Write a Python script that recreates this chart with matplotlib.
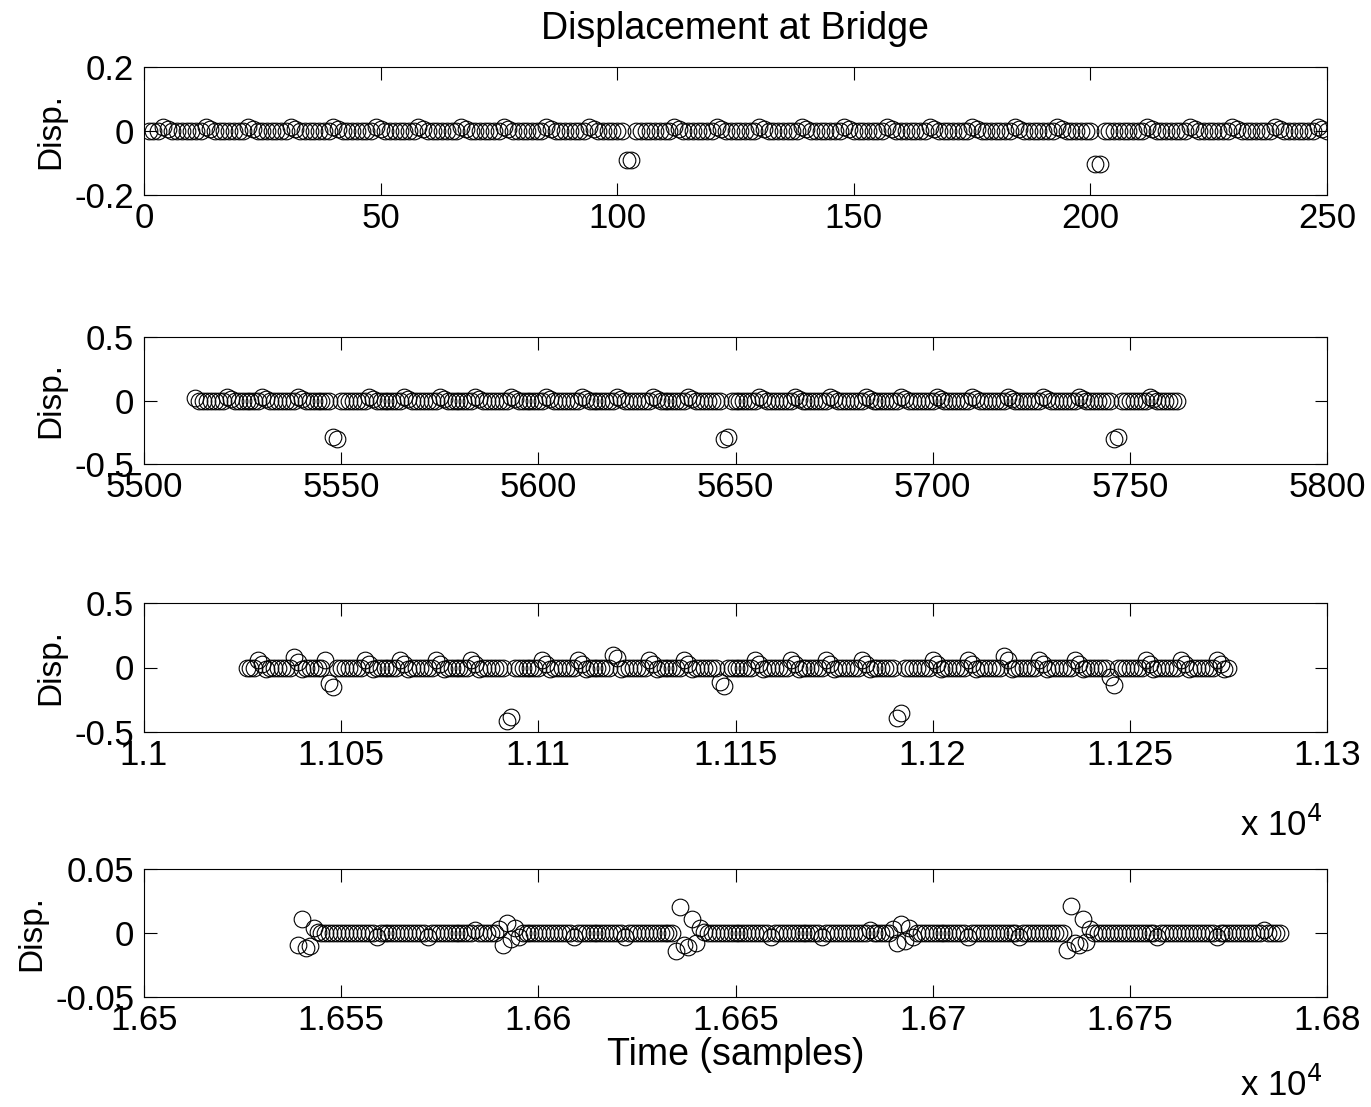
import numpy as np
import matplotlib
matplotlib.use("Agg")
import matplotlib.pyplot as plt
from matplotlib.ticker import FuncFormatter

plt.rcParams['font.family'] = ['Liberation Sans', 'DejaVu Sans']
plt.rcParams['axes.unicode_minus'] = False

# sample index where each segment starts (250 samples per segment)
start1 = 1
start2 = 5513
start3 = 11026
start4 = 16539

disp1 = [
    0, 0, 0, .012, .006, 0, 0, 0, 0, 0, 0, 0, .012, .006, 0, 0, 0, 0, 0, 0, 0, .012, .006, 0, 0,
    0, 0, 0, 0, 0, .012, .006, 0, 0, 0, 0, 0, 0, 0, .012, .006, 0, 0, 0, 0, 0, 0, 0, .012, .006,
    0, 0, 0, 0, 0, 0, 0, .012, .006, 0, 0, 0, 0, 0, 0, 0, .012, .006, 0, 0, 0, 0, 0, 0, 0,
    .012, .006, 0, 0, 0, 0, 0, 0, 0, .012, .006, 0, 0, 0, 0, 0, 0, 0, .012, .006, 0, 0, 0, 0, 0,
    0, -.09, -.092, 0, 0, 0, 0, 0, 0, 0, 0, .012, .006, 0, 0, 0, 0, 0, 0, 0, .012, .006, 0, 0, 0,
    0, 0, 0, 0, .012, .006, 0, 0, 0, 0, 0, 0, 0, .012, .006, 0, 0, 0, 0, 0, 0, 0, .012, .006, 0,
    0, 0, 0, 0, 0, 0, .012, .006, 0, 0, 0, 0, 0, 0, 0, .012, .006, 0, 0, 0, 0, 0, 0, 0, .012,
    .006, 0, 0, 0, 0, 0, 0, 0, .012, .006, 0, 0, 0, 0, 0, 0, 0, .012, .006, 0, 0, 0, 0, 0, 0,
    -.104, -.103, 0, 0, 0, 0, 0, 0, 0, 0, 0, .012, .006, 0, 0, 0, 0, 0, 0, 0, .012, .006, 0, 0, 0,
    0, 0, 0, 0, .012, .006, 0, 0, 0, 0, 0, 0, 0, .012, .006, 0, 0, 0, 0, 0, 0, 0, .012, .006, 0,
]

disp2 = [
    .02, 0, 0, 0, 0, 0, 0, 0, .03, .012, 0, 0, 0, 0, 0, 0, 0, .03, .012, 0, 0, 0, 0, 0, 0,
    0, .03, .012, 0, 0, 0, 0, 0, 0, 0, -.29, -.3, 0, 0, 0, 0, 0, 0, 0, .03, .012, 0, 0, 0, 0,
    0, 0, 0, .03, .012, 0, 0, 0, 0, 0, 0, 0, .03, .012, 0, 0, 0, 0, 0, 0, 0, .03, .012, 0, 0,
    0, 0, 0, 0, 0, .03, .012, 0, 0, 0, 0, 0, 0, 0, .03, .012, 0, 0, 0, 0, 0, 0, 0, .03, .012,
    0, 0, 0, 0, 0, 0, 0, .03, .012, 0, 0, 0, 0, 0, 0, 0, .03, .012, 0, 0, 0, 0, 0, 0, 0,
    .03, .012, 0, 0, 0, 0, 0, 0, 0, -.3, -.29, 0, 0, 0, 0, 0, 0, 0, .03, .012, 0, 0, 0, 0, 0,
    0, 0, .03, .012, 0, 0, 0, 0, 0, 0, 0, .03, .012, 0, 0, 0, 0, 0, 0, 0, .03, .012, 0, 0, 0,
    0, 0, 0, 0, .03, .012, 0, 0, 0, 0, 0, 0, 0, .03, .012, 0, 0, 0, 0, 0, 0, 0, .03, .012, 0,
    0, 0, 0, 0, 0, 0, .03, .012, 0, 0, 0, 0, 0, 0, 0, .03, .012, 0, 0, 0, 0, 0, 0, 0, .03,
    .012, 0, 0, 0, 0, 0, 0, 0, -.3, -.29, 0, 0, 0, 0, 0, 0, 0, .03, .012, 0, 0, 0, 0, 0, 0,
]

disp3 = [
    0, 0, 0, .06, .03, -.015, 0, 0, 0, 0, 0, 0, .08, .04, -.015, 0, 0, 0, 0, 0, .055, -.12, -.15, 0, 0,
    0, 0, 0, 0, 0, .06, .03, -.015, 0, 0, 0, 0, 0, 0, .06, .03, -.015, 0, 0, 0, 0, 0, 0, .06, .03,
    -.015, 0, 0, 0, 0, 0, 0, .06, .03, -.015, 0, 0, 0, 0, 0, 0, -.415, -.385, 0, 0, 0, 0, 0, 0, 0,
    .06, .03, -.015, 0, 0, 0, 0, 0, 0, .06, .03, -.015, 0, 0, 0, 0, 0, 0, .1, .07, -.015, 0, 0, 0, 0,
    0, 0, .06, .03, -.015, 0, 0, 0, 0, 0, 0, .06, .03, -.015, 0, 0, 0, 0, 0, 0, -.11, -.14, 0, 0, 0,
    0, 0, 0, 0, .06, .03, -.015, 0, 0, 0, 0, 0, 0, .06, .03, -.015, 0, 0, 0, 0, 0, 0, .06, .03, -.015,
    0, 0, 0, 0, 0, 0, .06, .03, -.015, 0, 0, 0, 0, 0, 0, -.39, -.35, 0, 0, 0, 0, 0, 0, 0, .06,
    .03, -.015, 0, 0, 0, 0, 0, 0, .06, .03, -.015, 0, 0, 0, 0, 0, 0, .09, .06, -.015, 0, 0, 0, 0, 0,
    0, .06, .03, -.015, 0, 0, 0, 0, 0, 0, .06, .03, -.015, 0, 0, 0, 0, 0, 0, -.07, -.135, 0, 0, 0, 0,
    0, 0, 0, .06, .03, -.015, 0, 0, 0, 0, 0, 0, .06, .03, -.015, 0, 0, 0, 0, 0, 0, .06, .03, -.015, 0,
]

disp4 = [
    -.009, .011, -.012, -.01, .004, .001, 0, 0, 0, 0, 0, 0, 0, 0, 0, 0, 0, 0, 0, 0, -.003, 0, 0, 0, 0,
    0, 0, 0, 0, 0, 0, 0, 0, -.003, 0, 0, 0, 0, 0, 0, 0, 0, 0, 0, 0, .002, 0, 0, 0, 0,
    0, .003, -.009, .008, -.005, .004, -.003, 0, 0, 0, 0, 0, 0, 0, 0, 0, 0, 0, 0, 0, -.003, 0, 0, 0, 0,
    0, 0, 0, 0, 0, 0, 0, 0, -.003, 0, 0, 0, 0, 0, 0, 0, 0, 0, 0, 0, 0, -.014, .02, -.009, -.011,
    .011, -.008, .004, .001, 0, 0, 0, 0, 0, 0, 0, 0, 0, 0, 0, 0, 0, 0, 0, 0, -.003, 0, 0, 0, 0,
    0, 0, 0, 0, 0, 0, 0, 0, -.003, 0, 0, 0, 0, 0, 0, 0, 0, 0, 0, 0, .002, 0, 0, 0, 0,
    0, .003, -.008, .007, -.006, .004, -.003, 0, 0, 0, 0, 0, 0, 0, 0, 0, 0, 0, 0, 0, -.003, 0, 0, 0, 0,
    0, 0, 0, 0, 0, 0, 0, 0, -.003, 0, 0, 0, 0, 0, 0, 0, 0, 0, 0, 0, -.013, .021, -.008, -.009, .011,
    -.007, .003, 0, 0, 0, 0, 0, 0, 0, 0, 0, 0, 0, 0, 0, 0, 0, 0, -.003, 0, 0, 0, 0, 0, 0,
    0, 0, 0, 0, 0, 0, 0, 0, -.003, 0, 0, 0, 0, 0, 0, 0, 0, 0, 0, 0, .002, 0, 0, 0, 0,
]

xlims = [(0, 250), (5500, 5800), (11000, 11300), (16500, 16800)]
xticks = [np.arange(0, 251, 50), np.arange(5500, 5801, 50),
          np.arange(11000, 11301, 50), np.arange(16500, 16801, 50)]
ylims = [(-0.2, 0.2), (-0.5, 0.5), (-0.5, 0.5), (-0.05, 0.05)]
yticks = [[-0.2, 0, 0.2], [-0.5, 0, 0.5], [-0.5, 0, 0.5], [-0.05, 0, 0.05]]
scaled = [False, False, True, True]

starts = [start1, start2, start3, start4]
series = [disp1, disp2, disp3, disp4]

W, H = 1371, 1107
fig = plt.figure(figsize=(W / 100, H / 100), dpi=100)
boxes = [(67, 195), (337, 464), (603, 732), (869, 997)]
FS = 25

axes = []
for k in range(4):
    top, bot = boxes[k]
    ax = fig.add_axes([144 / W, 1 - bot / H, (1327 - 144) / W, (bot - top) / H])
    y = np.array(series[k])
    x = np.arange(starts[k], starts[k] + len(y))
    ax.plot(x, y, 'o', mfc='none', mec='k', ms=12, mew=0.8, ls='none')
    ax.set_xlim(*xlims[k])
    ax.set_ylim(*ylims[k])
    ax.set_xticks(xticks[k])
    ax.set_yticks(yticks[k])
    if scaled[k]:
        ax.xaxis.set_major_formatter(FuncFormatter(lambda v, p: '%g' % (v / 1e4)))
    else:
        ax.xaxis.set_major_formatter(FuncFormatter(lambda v, p: '%g' % v))
    ax.yaxis.set_major_formatter(FuncFormatter(lambda v, p: '%g' % v))
    ax.tick_params(direction='in', top=True, right=True, length=9, width=0.8,
                   labelsize=FS)
    ax.tick_params(axis='x', pad=5)
    ax.tick_params(axis='y', pad=7)
    for s in ax.spines.values():
        s.set_linewidth(0.8)
    ax.set_ylabel('Disp.', fontsize=FS - 1, labelpad=6)
    axes.append(ax)

axes[3].set_xlabel('Time (samples)', fontsize=27, labelpad=0)

fig.text(735 / W, 1 - 29 / H, 'Displacement at Bridge', fontsize=27,
         ha='center', va='center')
fig.text(1240 / W, 1 - 836 / H, r'x 10$^4$', fontsize=FS, ha='left', va='baseline')
fig.text(1240 / W, 1 - 1096 / H, r'x 10$^4$', fontsize=FS, ha='left', va='baseline')

fig.savefig('out.png', dpi=100)
